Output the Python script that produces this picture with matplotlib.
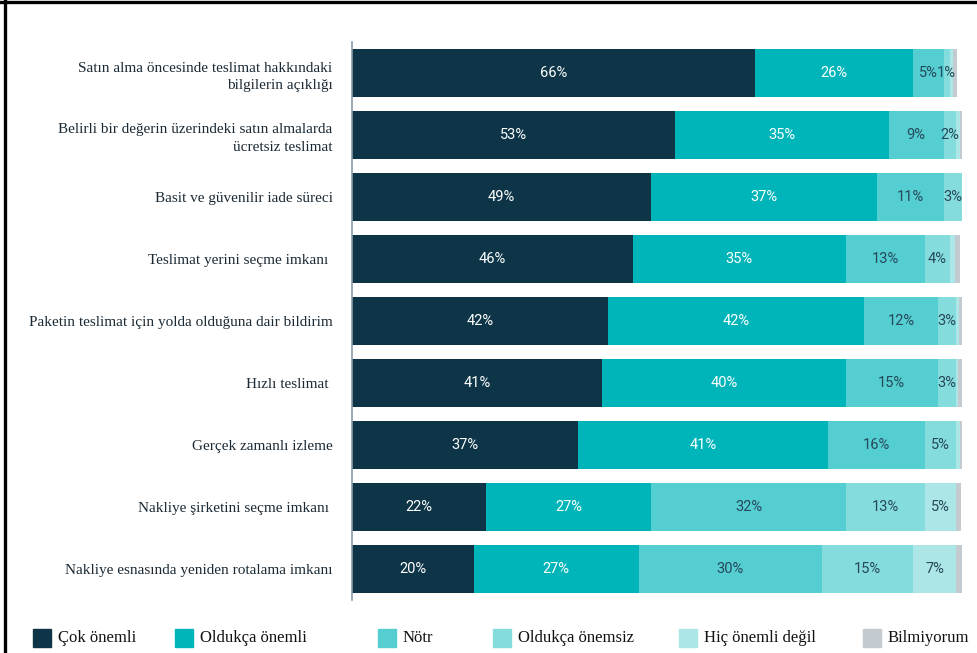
import matplotlib
matplotlib.use("Agg")
import matplotlib.pyplot as plt
from matplotlib.patches import Rectangle
from matplotlib.lines import Line2D
import numpy as np

# Survey items (top to bottom)
items = [
    "Satın alma öncesinde teslimat hakkındaki\nbilgilerin açıklığı",
    "Belirli bir değerin üzerindeki satın almalarda\nücretsiz teslimat",
    "Basit ve güvenilir iade süreci",
    "Teslimat yerini seçme imkanı ",
    "Paketin teslimat için yolda olduğuna dair bildirim",
    "Hızlı teslimat ",
    "Gerçek zamanlı izleme",
    "Nakliye şirketini seçme imkanı ",
    "Nakliye esnasında yeniden rotalama imkanı",
]

categories = ["Çok önemli", "Oldukça önemli", "Nötr",
              "Oldukça önemsiz", "Hiç önemli değil", "Bilmiyorum"]

# Share of respondents (%) per answer category, one value per item
cok_onemli      = [66, 53, 49, 46, 42, 41, 37, 22, 20]
oldukca_onemli  = [26, 35, 37, 35, 42, 40, 41, 27, 27]
notr            = [5, 9, 11, 13, 12, 15, 16, 32, 30]
oldukca_onemsiz = [1, 2, 3, 4, 3, 3, 5, 13, 15]
hic_onemli      = [0.6, 0.6, 0.5, 0.9, 0.5, 0.3, 0.6, 5, 7]
bilmiyorum      = [0.6, 0.6, 0.6, 0.7, 0.8, 1.2, 0.8, 0.9, 1.4]

series = [cok_onemli, oldukca_onemli, notr, oldukca_onemsiz, hic_onemli, bilmiyorum]
colors = ["#0d3547", "#00b5b9", "#55ced1", "#85dcdc", "#ade6e6", "#c4cbd0"]
label_colors = ["white", "white", "#25485a", "#25485a", "#25485a", None]

serif = ["Liberation Serif", "DejaVu Serif"]
sans = ["Roboto", "DejaVu Sans"]

fig = plt.figure(figsize=(9.78, 6.53), dpi=100)
ax = fig.add_axes([352 / 978, 1 - 600 / 653, 610 / 978, 558 / 653])

y = np.arange(len(items))
left = np.zeros(len(items))
for vals, col, lcol in zip(series, colors, label_colors):
    vals = np.asarray(vals, dtype=float)
    ax.barh(y, vals, left=left, height=0.76, color=col, edgecolor="none")
    if lcol is not None:
        for yi, (lft, v) in enumerate(zip(left, vals)):
            if v >= 1:
                ax.text(lft + v / 2, yi, f"{v:.0f}%", ha="center", va="center",
                        color=lcol, fontsize=10.5, family=sans)
    left += vals

ax.set_xlim(0, 100)
ax.set_ylim(len(items) - 0.5, -0.5)
ax.set_yticks(y)
ax.set_yticklabels(items, family=serif, fontsize=11, color="#1b2a35",
                   linespacing=1.45)
ax.tick_params(axis="y", length=0, pad=14)
ax.set_xticks([])
for s in ["top", "right", "bottom"]:
    ax.spines[s].set_visible(False)
ax.spines["left"].set_color("#8a9aa4")
ax.spines["left"].set_linewidth(1.2)

# Legend row along the bottom
legend_x = [33, 175, 378, 493, 679, 863]
yc = 1 - 638 / 653
sq_w, sq_h = 18 / 978, 18 / 653
for x, col, name in zip(legend_x, colors, categories):
    fig.patches.append(Rectangle((x / 978, yc - sq_h / 2), sq_w, sq_h,
                                 transform=fig.transFigure, color=col))
    fig.text((x + 25) / 978, yc, name, ha="left", va="center",
             family=serif, fontsize=12, color="#111111")

# Frame lines on the top and left edge
fig.lines.append(Line2D([0, 1], [1 - 1.5 / 653, 1 - 1.5 / 653],
                        transform=fig.transFigure, color="black", lw=2.4))
fig.lines.append(Line2D([5 / 978, 5 / 978], [0, 1],
                        transform=fig.transFigure, color="black", lw=2.4))

fig.savefig("out.png", dpi=100)
